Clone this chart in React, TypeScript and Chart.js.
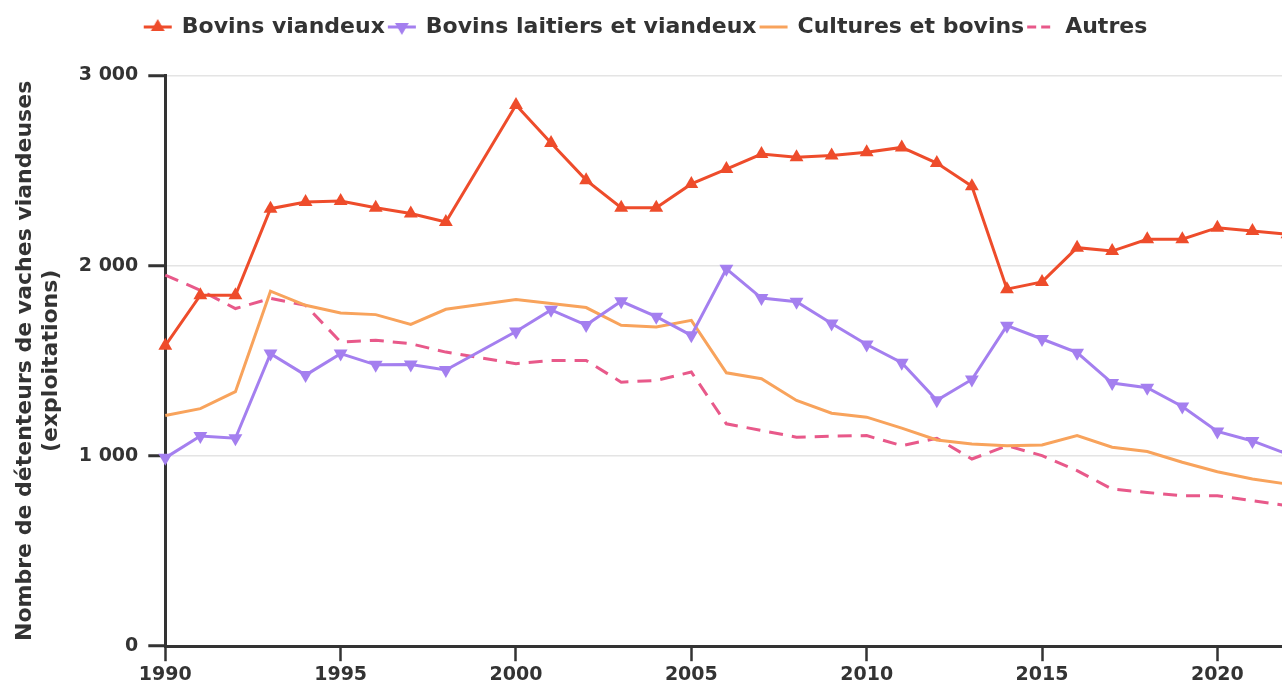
import React, { useEffect, useRef } from 'react';
import { Chart, registerables } from 'chart.js';

Chart.register(...registerables);

const years = [
  1990, 1991, 1992, 1993, 1994, 1995, 1996, 1997, 1998,
  2000, 2001, 2002, 2003, 2004, 2005, 2006, 2007, 2008, 2009, 2010,
  2011, 2012, 2013, 2014, 2015, 2016, 2017, 2018, 2019, 2020, 2021, 2022,
];

const bovinsViandeux = [
  1580, 1845, 1845, 2300, 2335, 2340, 2305, 2275, 2230,
  2845, 2645, 2450, 2305, 2305, 2430, 2508, 2587, 2570, 2580, 2597,
  2622, 2540, 2418, 1877, 1915, 2095, 2077, 2139, 2139, 2200, 2182, 2165,
];

const bovinsLaitiersViandeux = [
  990, 1105, 1093, 1538, 1425, 1538, 1479, 1481, 1452,
  1654, 1768, 1688, 1813, 1732, 1634, 1984, 1830, 1811, 1696, 1586,
  1490, 1293, 1402, 1685, 1615, 1543, 1383, 1359, 1260, 1129, 1079, 1010,
];

const culturesBovins = [
  1213, 1249, 1338, 1866, 1792, 1752, 1743, 1692, 1771,
  1822, 1801, 1780, 1687, 1678, 1713, 1437, 1406, 1292, 1225, 1204,
  1146, 1084, 1063, 1054, 1058, 1107, 1046, 1023, 967, 917, 879, 852,
];

const autres = [
  1951, 1871, 1775, 1828, 1792, 1599, 1608, 1590, 1546,
  1485, 1502, 1502, 1388, 1397, 1441, 1169, 1134, 1099, 1104, 1107,
  1054, 1093, 984, 1054, 1002, 923, 826, 808, 791, 791, 765, 738,
];

const seriesLabels = ['Bovins viandeux', 'Bovins laitiers et viandeux', 'Cultures et bovins', 'Autres'];
const xTickValues = [1990, 1995, 2000, 2005, 2010, 2015, 2020];
const yTickValues = [0, 1000, 2000, 3000];
const yTickLabels = ['0', '1 000', '2 000', '3 000'];
const yTitle = ['Nombre de détenteurs de vaches viandeuses', '(exploitations)'];

const RED = '#EE4C2B';
const PURPLE = '#A47FEF';
const ORANGE = '#F8A35C';
const PINK = '#E8598A';
const TEXT = '#333333';
const FONT = 'DejaVu Sans';

function makeIcon(color: string, kind: 'up' | 'down' | 'line' | 'dash') {
  const c = document.createElement('canvas');
  c.width = 30;
  c.height = 20;
  const ctx = c.getContext('2d')!;
  ctx.strokeStyle = color;
  ctx.fillStyle = color;
  ctx.lineWidth = 3;
  if (kind === 'dash') ctx.setLineDash([9, 5]);
  ctx.beginPath();
  ctx.moveTo(1, 10);
  ctx.lineTo(29, 10);
  ctx.stroke();
  ctx.setLineDash([]);
  if (kind === 'up' || kind === 'down') {
    const r = 8;
    const s = kind === 'up' ? 1 : -1;
    ctx.beginPath();
    ctx.moveTo(15, 10 - s * r);
    ctx.lineTo(15 + r * Math.sin((2 * Math.PI) / 3), 10 + s * r / 2);
    ctx.lineTo(15 - r * Math.sin((2 * Math.PI) / 3), 10 + s * r / 2);
    ctx.closePath();
    ctx.fill();
  }
  return c;
}

const toPoints = (vals: number[]) => vals.map((v, i) => ({ x: years[i], y: v }));

export default function App() {
  const ref = useRef<HTMLCanvasElement | null>(null);

  useEffect(() => {
    if (!ref.current) return;
    const icons = [
      makeIcon(RED, 'up'),
      makeIcon(PURPLE, 'down'),
      makeIcon(ORANGE, 'line'),
      makeIcon(PINK, 'dash'),
    ];
    const chart = new Chart(ref.current, {
      type: 'line',
      data: {
        datasets: [
          {
            label: seriesLabels[0],
            data: toPoints(bovinsViandeux),
            borderColor: RED,
            backgroundColor: RED,
            borderWidth: 3,
            pointStyle: 'triangle',
            pointRadius: 8,
            pointBorderWidth: 0,
            clip: false as any,
          },
          {
            label: seriesLabels[1],
            data: toPoints(bovinsLaitiersViandeux),
            borderColor: PURPLE,
            backgroundColor: PURPLE,
            borderWidth: 3,
            pointStyle: 'triangle',
            pointRotation: 180,
            pointRadius: 8,
            pointBorderWidth: 0,
            clip: false as any,
          },
          {
            label: seriesLabels[2],
            data: toPoints(culturesBovins),
            borderColor: ORANGE,
            backgroundColor: ORANGE,
            borderWidth: 3,
            pointRadius: 0,
            clip: false as any,
          },
          {
            label: seriesLabels[3],
            data: toPoints(autres),
            borderColor: PINK,
            backgroundColor: PINK,
            borderWidth: 3,
            borderDash: [14, 9],
            pointRadius: 0,
            clip: false as any,
          },
        ],
      },
      options: {
        animation: false,
        responsive: false,
        devicePixelRatio: 1,
        layout: { padding: { top: 12, left: 0, right: 0, bottom: 0 } },
        plugins: {
          legend: {
            position: 'top',
            align: 'center',
            labels: {
              usePointStyle: true,
              pointStyleWidth: 26,
              padding: 4,
              color: TEXT,
              font: { family: FONT, size: 22, weight: 'bold' },
              generateLabels: (ch: any) => {
                const items = Chart.defaults.plugins.legend.labels.generateLabels(ch);
                return items.map((it: any, i: number) => ({ ...it, pointStyle: icons[i], rotation: 0 }));
              },
            },
          },
          subtitle: {
            display: true,
            text: '',
            weight: 500,
            font: { size: 10, lineHeight: 1.2 },
            padding: { top: 0, bottom: 15.5 },
          } as any,
          tooltip: { enabled: false },
        },
        scales: {
          x: {
            type: 'linear',
            min: 1990,
            max: 2021.9,
            afterBuildTicks: (scale: any) => {
              scale.ticks = xTickValues.map((v) => ({ value: v }));
            },
            grid: {
              display: true,
              drawOnChartArea: false,
              drawTicks: true,
              tickLength: 15,
              tickColor: TEXT,
              tickWidth: 2.5,
            } as any,
            border: { display: true, color: TEXT, width: 3 },
            ticks: {
              color: TEXT,
              padding: 2,
              maxRotation: 0,
              font: { family: FONT, size: 19, weight: 'bold' },
              callback: (v: any) => String(v),
            },
          },
          y: {
            type: 'linear',
            min: 0,
            max: 3000,
            afterBuildTicks: (scale: any) => {
              scale.ticks = yTickValues.map((v) => ({ value: v }));
            },
            grid: {
              color: '#e4e4e4',
              lineWidth: 1.5,
              drawTicks: true,
              tickLength: 17,
              tickColor: TEXT,
              tickWidth: 3,
            } as any,
            border: { display: true, color: TEXT, width: 3 },
            ticks: {
              color: TEXT,
              padding: 10,
              font: { family: FONT, size: 19, weight: 'bold' },
              callback: (v: any) => {
                const idx = yTickValues.indexOf(Number(v));
                return idx >= 0 ? yTickLabels[idx] : '';
              },
            },
            title: {
              display: true,
              text: yTitle,
              color: TEXT,
              font: { family: FONT, size: 22, weight: 'bold', lineHeight: 1.2 },
              padding: { top: 12, bottom: 4 },
            },
          },
        },
      },
    });
    return () => chart.destroy();
  }, []);

  return (
    <div
      style={{
        position: 'absolute',
        left: 0,
        top: 0,
        width: 1282,
        height: 682,
        overflow: 'hidden',
        background: '#ffffff',
      }}
    >
      <canvas ref={ref} width={1292} height={688} style={{ display: 'block', width: 1292, height: 688 }} />
    </div>
  );
}
